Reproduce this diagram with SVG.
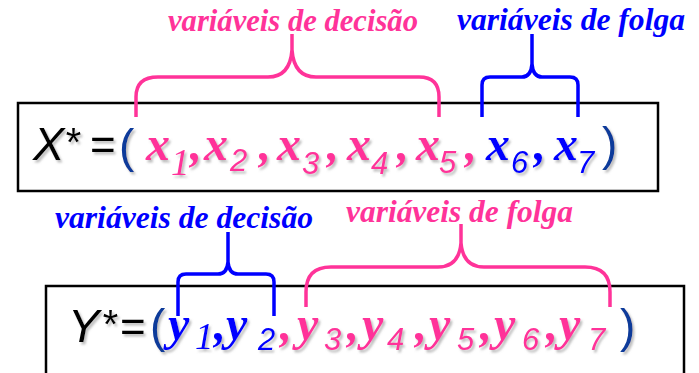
<svg xmlns="http://www.w3.org/2000/svg" width="699" height="373" viewBox="0 0 699 373">
<defs>
<filter id="sh" x="-10%" y="-10%" width="130%" height="140%">
<feDropShadow dx="2" dy="2.5" stdDeviation="1.2" flood-color="#888" flood-opacity="0.55"/>
</filter>
<style>
.box{fill:#fff;stroke:#000;stroke-width:2.5}
.lbl{font-family:"Liberation Serif",serif;font-weight:bold;font-style:italic;font-size:31px}
.v{font-family:"Liberation Serif",serif;font-weight:bold;font-style:italic;font-size:48px}
.s{font-family:"Liberation Sans",sans-serif;font-style:italic;font-size:31px}
.s1{font-family:"Liberation Serif",serif;font-style:italic;font-size:37px}
.eq{font-family:"Liberation Sans",sans-serif;font-style:italic;font-size:47px;fill:#000}
.st{font-family:"Liberation Sans",sans-serif;font-style:italic;font-size:40px;fill:#000}
.eqn{font-family:"Liberation Sans",sans-serif;font-size:44px;fill:#000}
.par{font-family:"Liberation Sans",sans-serif;font-size:46px;fill:#0E3A9A}
.pk{fill:#FF3399}
.bl{fill:#0000FF}
.br{fill:none;stroke-width:3.5;stroke-linecap:butt;stroke-linejoin:round}
</style>
</defs>
<rect width="699" height="373" fill="#fff"/>

<g id="node-x">
<rect class="box" x="18" y="103" width="640" height="88"/>
<g filter="url(#sh)">
<text class="eq" x="33" y="160">X</text>
<text class="st" x="64" y="156">*</text>
<text class="eqn" x="90" y="160">=</text>
<text class="par" x="119" y="162">(</text>
<g class="pk">
<text class="v" x="146" y="160">x</text><text class="s1" x="171" y="175">1</text>
<text class="v" x="190" y="160">,</text>
<text class="v" x="204" y="160">x</text><text class="s" x="230" y="171">2</text>
<text class="v" x="259" y="160">,</text>
<text class="v" x="277" y="160">x</text><text class="s" x="302" y="174">3</text>
<text class="v" x="327" y="160">,</text>
<text class="v" x="347" y="160">x</text><text class="s" x="371" y="174">4</text>
<text class="v" x="397" y="160">,</text>
<text class="v" x="416" y="160">x</text><text class="s" x="439" y="173">5</text>
<text class="v" x="465" y="160">,</text>
</g>
<g class="bl">
<text class="v" x="486" y="160">x</text><text class="s" x="511" y="173">6</text>
<text class="v" x="534" y="160">,</text>
<text class="v" x="554" y="160">x</text><text class="s" x="577" y="173">7</text>
</g>
<text class="par" x="602" y="160">)</text>
</g>
</g>

<g id="node-y">
<rect class="box" x="46" y="286" width="638" height="100"/>
<g filter="url(#sh)">
<text class="eq" x="68" y="342">Y</text>
<text class="st" x="101" y="338">*</text>
<text class="eqn" x="120" y="342">=</text>
<text class="par" x="150" y="342">(</text>
<g class="bl">
<text class="v" x="168" y="340">y</text><text class="s1" x="195" y="349">1</text>
<text class="v" x="214" y="340">,</text>
<text class="v" x="226" y="340">y</text><text class="s" x="258" y="350">2</text>
</g>
<g class="pk">
<text class="v" x="280" y="340">,</text>
<text class="v" x="297" y="340">y</text><text class="s" x="324" y="350">3</text>
<text class="v" x="347" y="340">,</text>
<text class="v" x="362" y="340">y</text><text class="s" x="387" y="350">4</text>
<text class="v" x="415" y="340">,</text>
<text class="v" x="429" y="340">y</text><text class="s" x="457" y="350">5</text>
<text class="v" x="480" y="340">,</text>
<text class="v" x="494" y="340">y</text><text class="s" x="522" y="350">6</text>
<text class="v" x="546" y="340">,</text>
<text class="v" x="559" y="340">y</text><text class="s" x="588" y="350">7</text>
</g>
<text class="par" x="620" y="342">)</text>
</g>
</g>

<g id="labels">
<text id="lbl-x-dec" class="lbl pk" x="168" y="31" textLength="250" lengthAdjust="spacingAndGlyphs">variáveis de decisão</text>
<text id="lbl-x-fol" class="lbl bl" x="457" y="30" textLength="228" lengthAdjust="spacingAndGlyphs">variáveis de folga</text>
<text id="lbl-y-dec" class="lbl bl" x="55" y="228" textLength="258" lengthAdjust="spacingAndGlyphs">variáveis de decisão</text>
<text id="lbl-y-fol" class="lbl pk" x="346" y="222" textLength="227" lengthAdjust="spacingAndGlyphs">variáveis de folga</text>
</g>

<g id="connectors">
<path class="br" stroke="#FF3399" d="M136,117 V97 Q136,77 158,77 H268 Q290,77 292,50 V34 M292,50 Q294,77 316,77 H419 Q439,77 439,97 V117"/>
<path class="br" stroke="#0000FF" stroke-width="4" d="M482,117 V85 Q482,77 490,77 H522 Q531,77 532,64 V34 M532,64 Q533,77 542,77 H570 Q578,77 578,85 V117"/>
<path class="br" stroke="#0000FF" stroke-width="4" d="M178,316 V282 Q178,274 186,274 H218 Q227,274 228,262 V232 M228,262 Q229,274 238,274 H266 Q274,274 274,282 V316"/>
<path class="br" stroke="#FF3399" d="M306,307 V292 Q306,267 331,267 H438 Q459,267 461,243 V224 M461,243 Q463,267 484,267 H585 Q610,267 610,292 V307"/>
</g>
</svg>
